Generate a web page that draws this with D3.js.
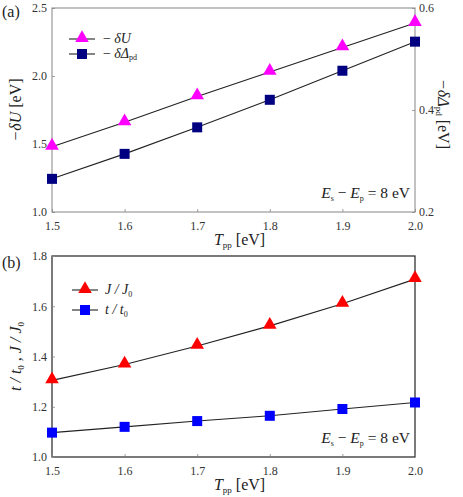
<!DOCTYPE html>
<html>
<head>
<meta charset="utf-8" />
<script src="https://cdn.jsdelivr.net/npm/d3@7"></script>
<style>
  body { margin: 0; background: #fff; }
</style>
</head>
<body>
<script>
    // data
    var tpp = [1.5, 1.6, 1.7, 1.8, 1.9, 2.0];
    var deltaU = [1.48, 1.66, 1.85, 2.03, 2.21, 2.39];       // -dU, left axis
    var deltaPd = [0.265, 0.314, 0.366, 0.420, 0.477, 0.534]; // -dDelta_pd, right axis
    var jRatio = [1.305, 1.368, 1.442, 1.522, 1.610, 1.708];
    var tRatio = [1.097, 1.120, 1.143, 1.164, 1.191, 1.217];
    var xTicks = [1.5, 1.6, 1.7, 1.8, 1.9, 2.0];
    var yTicksA = [1.0, 1.5, 2.0, 2.5];
    var yTicksARight = [0.2, 0.4, 0.6];
    var yTicksB = [1.0, 1.2, 1.4, 1.6, 1.8];

    var FONT = "'Liberation Serif', 'Times New Roman', serif";
    var width = 463;
    var height = 497;
    var left = 52, right = 415;
    var panelA = { top: 8, bottom: 212 };
    var panelB = { top: 256, bottom: 457 };

    var svg = d3.select('body')
        .append('svg')
        .attr('width', width)
        .attr('height', height)
        .style('font-family', FONT);

    var x = d3.scaleLinear().domain([1.5, 2.0]).range([left, right]);
    var yA = d3.scaleLinear().domain([1.0, 2.5]).range([panelA.bottom, panelA.top]);
    var yA2 = d3.scaleLinear().domain([0.2, 0.6]).range([panelA.bottom, panelA.top]);
    var yB = d3.scaleLinear().domain([1.0, 1.8]).range([panelB.bottom, panelB.top]);

    function fmt(d) { return d.toFixed(1); }

    function label(sel, attrs) {
        var t = sel.append('text').style('font-family', FONT).attr('fill', '#222');
        for (var k in attrs) t.attr(k, attrs[k]);
        return t;
    }

    function styleAxis(g) {
        g.attr('font-family', null);
        g.select('.domain').remove();
        g.selectAll('line').attr('stroke', '#888').attr('stroke-width', 0.8);
        g.selectAll('text')
            .style('font-family', FONT)
            .attr('font-size', 12)
            .attr('fill', '#333');
    }

    function drawBox(p) {
        svg.append('rect')
            .attr('x', left)
            .attr('y', p.top)
            .attr('width', right - left)
            .attr('height', p.bottom - p.top)
            .attr('fill', 'none')
            .attr('stroke', p.color)
            .attr('stroke-width', 1.2);
    }

    function xAxis(p) {
        svg.append('g')
            .attr('transform', 'translate(0,' + p.bottom + ')')
            .call(d3.axisBottom(x).tickValues(xTicks).tickFormat(fmt).tickSize(-3).tickPadding(9))
            .call(styleAxis);
        var t = label(svg, { x: (left + right) / 2 + 6, y: p.bottom + 33, 'text-anchor': 'middle', 'font-size': 16 });
        t.append('tspan').attr('font-style', 'italic').text('T');
        t.append('tspan').attr('font-size', 9).attr('dy', 3).text('pp');
        t.append('tspan').attr('dy', -3).text(' [eV]');
    }

    function triangle(sel, cx, cy, color) {
        sel.append('path')
            .attr('d', d3.symbol().type(d3.symbolTriangle).size(80)())
            .attr('transform', 'translate(' + cx + ',' + (cy - 1) + ')')
            .attr('fill', color);
    }
    function square(sel, cx, cy, color) {
        sel.append('rect')
            .attr('x', cx - 5).attr('y', cy - 5)
            .attr('width', 10).attr('height', 10)
            .attr('fill', color);
    }

    function series(xs, ys, sx, sy, color, marker) {
        var line = d3.line()
            .x(function (d, i) { return sx(xs[i]); })
            .y(function (d) { return sy(d); });
        svg.append('path')
            .datum(ys)
            .attr('d', line)
            .attr('fill', 'none')
            .attr('stroke', '#222')
            .attr('stroke-width', 1.1);
        var g = svg.append('g');
        ys.forEach(function (d, i) {
            marker(g, sx(xs[i]), sy(d), color);
        });
    }

    function legendRow(lx, ly, color, marker, build) {
        svg.append('line')
            .attr('x1', lx).attr('x2', lx + 26)
            .attr('y1', ly).attr('y2', ly)
            .attr('stroke', '#222').attr('stroke-width', 1.1);
        marker(svg, lx + 13, ly, color);
        var t = label(svg, { x: lx + 33, y: ly + 4, 'font-size': 14 });
        build(t);
    }

    function energyNote(p) {
        var t = label(svg, { x: right - 5, y: p.bottom - 14, 'text-anchor': 'end', 'font-size': 15.5 });
        t.append('tspan').attr('font-style', 'italic').text('E');
        t.append('tspan').attr('font-size', 8).attr('dy', 3).text('s');
        t.append('tspan').attr('dy', -3).text(' \u2212 ');
        t.append('tspan').attr('font-style', 'italic').text('E');
        t.append('tspan').attr('font-size', 8).attr('dy', 3).text('p');
        t.append('tspan').attr('dy', -3).text(' = 8 eV');
    }

    // ---------- panel (a) ----------
    panelA.color = '#999';
    drawBox(panelA);
    xAxis(panelA);
    svg.append('g')
        .attr('transform', 'translate(' + left + ',0)')
        .call(d3.axisLeft(yA).tickValues(yTicksA).tickFormat(fmt).tickSize(-3).tickPadding(5))
        .call(styleAxis);
    svg.append('g')
        .attr('transform', 'translate(' + right + ',0)')
        .call(d3.axisRight(yA2).tickValues(yTicksARight).tickFormat(fmt).tickSize(-3).tickPadding(4))
        .call(styleAxis);

    series(tpp, deltaU, x, yA, '#ff00ff', triangle);
    series(tpp, deltaPd, x, yA2, '#000080', square);

    legendRow(69, 39, '#ff00ff', triangle, function (t) {
        t.append('tspan').attr('font-style', 'italic').text('\u2212\u2009\u03b4U');
    });
    legendRow(69, 54, '#000080', square, function (t) {
        t.append('tspan').attr('font-style', 'italic').text('\u2212\u2009\u03b4\u0394');
        t.append('tspan').attr('font-size', 8).attr('dy', 2).text('pd');
    });
    energyNote(panelA);

    var yl = label(svg, {
        transform: 'translate(21,' + ((panelA.top + panelA.bottom) / 2) + ') rotate(-90)',
        'text-anchor': 'middle', 'font-size': 16
    });
    yl.append('tspan').attr('font-style', 'italic').text('\u2212\u03b4U');
    yl.append('tspan').text(' [eV]');

    // right title reads top to bottom; glyphs grow to the right of the baseline
    var yr = label(svg, {
        transform: 'translate(438,' + ((panelA.top + panelA.bottom) / 2 + 4) + ') rotate(90)',
        'text-anchor': 'middle', 'font-size': 16
    });
    yr.append('tspan').attr('font-style', 'italic').text('\u2212\u03b4\u0394');
    yr.append('tspan').attr('font-size', 9).attr('dy', 2).text('pd');
    yr.append('tspan').attr('dy', -2).text(' [eV]');

    label(svg, { x: 2, y: 17, 'font-size': 16 }).text('(a)');

    // ---------- panel (b) ----------
    panelB.color = '#222';
    drawBox(panelB);
    xAxis(panelB);
    svg.append('g')
        .attr('transform', 'translate(' + left + ',0)')
        .call(d3.axisLeft(yB).tickValues(yTicksB).tickFormat(fmt).tickSize(-3).tickPadding(5))
        .call(styleAxis);

    series(tpp, jRatio, x, yB, '#ff0000', triangle);
    series(tpp, tRatio, x, yB, '#0000ff', square);

    legendRow(72, 290, '#ff0000', triangle, function (t) {
        t.append('tspan').attr('font-style', 'italic').text('J / J');
        t.append('tspan').attr('font-size', 8).attr('dy', 3).text('0');
    });
    legendRow(72, 310, '#0000ff', square, function (t) {
        t.append('tspan').attr('font-style', 'italic').text('t / t');
        t.append('tspan').attr('font-size', 8).attr('dy', 3).text('0');
    });
    energyNote(panelB);

    var yb = label(svg, {
        transform: 'translate(21,' + ((panelB.top + panelB.bottom) / 2) + ') rotate(-90)',
        'text-anchor': 'middle', 'font-size': 16
    });
    yb.append('tspan').attr('font-style', 'italic').text('t / t');
    yb.append('tspan').attr('font-size', 9).attr('dy', 3).text('0');
    yb.append('tspan').attr('dy', -3).attr('font-style', 'italic').text(' ,  J / J');
    yb.append('tspan').attr('font-size', 9).attr('dy', 3).text('0');

    label(svg, { x: 2, y: 268, 'font-size': 16 }).text('(b)');
</script>
</body>
</html>
